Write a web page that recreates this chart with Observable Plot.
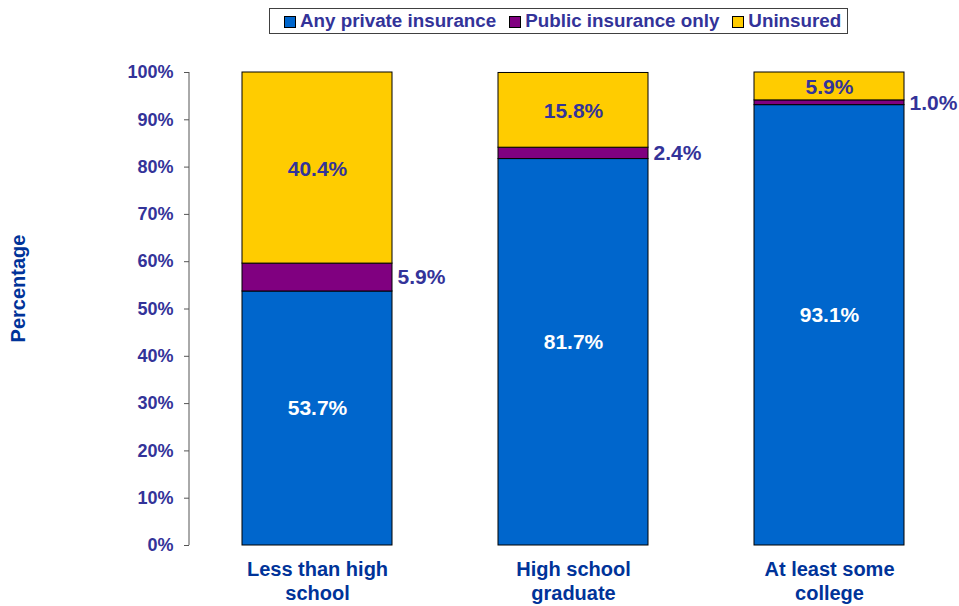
<!DOCTYPE html>
<html>
<head>
<meta charset="utf-8">
<script src="https://cdn.jsdelivr.net/npm/d3@7"></script>
<script src="https://cdn.jsdelivr.net/npm/@observablehq/plot@0.6"></script>
<style>
  html, body { margin: 0; padding: 0; background: #fff; }
  #wrap { position: relative; width: 959px; height: 606px; font-family: "Liberation Sans", Arial, sans-serif; }
  #legend {
    position: absolute; left: 269px; top: 8px; width: 563px; height: 24px;
    border: 1px solid #404040; background: #fff;
    display: flex; align-items: center; padding-left: 14px; gap: 13px; box-sizing: content-box;
  }
  .item { display: flex; align-items: center; gap: 4px; font-size: 18.8px; font-weight: bold; color: #333399; white-space: nowrap; }
  .sw { width: 10px; height: 10px; border: 1px solid #000; display: inline-block; margin-top: 2px; }
  #chart { position: absolute; left: 0; top: 0; }
</style>
</head>
<body>
<div id="wrap">
  <div id="chart"></div>
  <div id="legend"></div>
</div>
<script>
const categories = ["Less than high school", "High school graduate", "At least some college"];
const categoryLabels = ["Less than high\nschool", "High school\ngraduate", "At least some\ncollege"];
const seriesNames = ["Any private insurance", "Public insurance only", "Uninsured"];
const privateValues = [53.7, 81.7, 93.1];
const publicValues = [5.9, 2.4, 1.0];
const uninsuredValues = [40.4, 15.8, 5.9];
const seriesColors = ["#0066CC", "#800080", "#FFCC00"];
const yTicks = [0, 10, 20, 30, 40, 50, 60, 70, 80, 90, 100];
const yAxisTitle = "Percentage";

const seriesValues = [privateValues, publicValues, uninsuredValues];
const rows = [];
categories.forEach((c, i) => {
  seriesNames.forEach((s, j) => {
    rows.push({category: c, series: s, value: seriesValues[j][i]});
  });
});
const fmt = v => v.toFixed(1) + "%";
const labelOf = new Map(categories.map((c, i) => [c, categoryLabels[i]]));
const labelFor = k => d => d.series === seriesNames[k] ? fmt(d.value) : null;

const stackOpts = {x: "category", y: "value", z: "series", order: seriesNames};

const chart = Plot.plot({
  width: 959,
  height: 606,
  marginTop: 72,
  marginBottom: 61,
  marginLeft: 189,
  marginRight: 2,
  style: {fontFamily: "'Liberation Sans', Arial, sans-serif", fontWeight: "bold", background: "transparent", overflow: "visible"},
  x: {domain: categories, paddingInner: 0.414, paddingOuter: 0.207, axis: null},
  y: {domain: [0, 100], axis: null},
  color: {domain: seriesNames, range: seriesColors},
  marks: [
    Plot.barY(rows, Plot.stackY({...stackOpts, fill: "series", stroke: "#000", strokeWidth: 1})),
    Plot.axisY({ticks: yTicks, tickSize: 5, tickFormat: () => "", stroke: "#555", label: null}),
    Plot.axisY({ticks: yTicks, tickSize: 0, tickPadding: 16, tickFormat: d => d + "%", fill: "#333399", fontSize: 18, fontWeight: "bold", label: null}),
    Plot.axisX({tickSize: 0, tickPadding: 13, tickFormat: d => labelOf.get(d), fill: "#003399", fontSize: 20, fontWeight: "bold", lineHeight: 1.2, label: null}),
    Plot.text(rows, Plot.stackY({...stackOpts, text: labelFor(0), fill: "white", fontSize: 21, fontWeight: "bold", dy: -10})),
    Plot.text(rows, Plot.stackY({...stackOpts, text: labelFor(1), fill: "#333399", fontSize: 21, fontWeight: "bold", textAnchor: "start", dx: 80})),
    Plot.text(rows, Plot.stackY({...stackOpts, text: labelFor(2), fill: "#333399", fontSize: 21, fontWeight: "bold", dy: 1}))
  ]
});

const ys = chart.scale("y");
const xs = chart.scale("x");
const svg = d3.select(chart);
svg.append("line")
  .attr("x1", xs.range[0]).attr("x2", xs.range[0])
  .attr("y1", ys.apply(0)).attr("y2", ys.apply(100))
  .attr("stroke", "#555").attr("stroke-width", 1);

const midY = (ys.apply(0) + ys.apply(100)) / 2 - 20;
svg.append("text")
  .attr("transform", `translate(18,${midY}) rotate(-90)`)
  .attr("text-anchor", "middle")
  .attr("dy", "0.35em")
  .attr("fill", "#003399")
  .attr("font-size", 20)
  .attr("font-weight", "bold")
  .attr("font-family", "'Liberation Sans', Arial, sans-serif")
  .text(yAxisTitle);

document.getElementById("chart").appendChild(chart);

const legend = document.getElementById("legend");
seriesNames.forEach((s, i) => {
  const item = document.createElement("div");
  item.className = "item";
  const sw = document.createElement("span");
  sw.className = "sw";
  sw.style.background = seriesColors[i];
  const t = document.createElement("span");
  t.textContent = s;
  item.appendChild(sw);
  item.appendChild(t);
  legend.appendChild(item);
});
</script>
</body>
</html>
